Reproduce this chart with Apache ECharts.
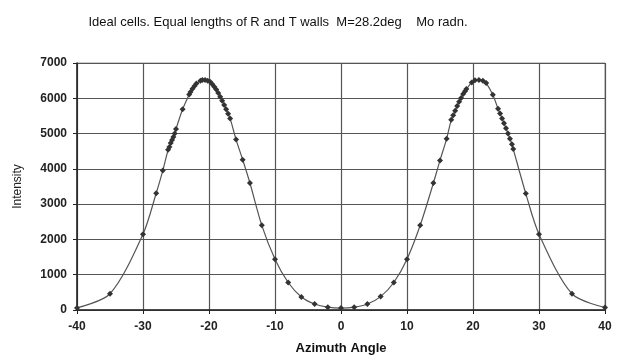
<!DOCTYPE html>
<html><head><meta charset="utf-8">
<script src="https://cdn.jsdelivr.net/npm/echarts@6/dist/echarts.min.js"></script>
<style>html,body{margin:0;padding:0;background:#fff}#c{width:623px;height:355px}</style>
</head><body><div id="c"></div>
<script>
const titleText = 'Ideal cells. Equal lengths of R and T walls  M=28.2deg    Mo radn.';
const xName = 'Azimuth Angle';
const yName = 'Intensity';
const angles = [-40,-35,-30,-28,-27,-26.2,-26.0,-25.8,-25.6,-25.4,-25.2,-25.0,-24.0,-23.0,-22.8,-22.5,-22.2,-21.9,-21.3,-21.0,-20.6,-20.2,-19.8,-19.5,-19.2,-18.9,-18.6,-18.3,-18.0,-17.7,-17.4,-17.1,-16.8,-15.9,-14.9,-13.8,-12,-10,-8,-6,-4,-2,0,
  2,4,6,8,10,12,14,15,16,16.7,17.0,17.3,17.6,17.9,18.2,18.5,18.8,19.0,19.8,20.3,20.9,21.5,22.0,23.0,23.8,24.1,24.4,24.7,25.0,25.3,25.6,25.9,26.1,28,30,35,40];
const intensity = [60,460,2150,3310,3950,4540,4620,4730,4820,4900,5000,5130,5690,6110,6180,6270,6350,6420,6500,6520,6520,6500,6460,6400,6330,6250,6150,6040,5930,5810,5690,5560,5430,4830,4260,3600,2400,1440,780,370,170,80,55,
  80,170,380,780,1440,2400,3600,4240,4850,5390,5520,5650,5780,5900,6010,6120,6200,6260,6450,6510,6520,6500,6430,6100,5700,5570,5430,5290,5150,5000,4850,4700,4560,3300,2150,460,70];
const data = angles.map((a,i)=>[a,intensity[i]]);
const chart = echarts.init(document.getElementById('c'), null, {renderer:'canvas'});
const font = 'Liberation Sans, Arial, sans-serif';
chart.setOption({
  animation:false,
  backgroundColor:'#fff',
  title:{text:titleText,left:273,top:11,textAlign:'center',textStyle:{fontFamily:font,fontSize:13,fontWeight:'normal',color:'#111'}},
  grid:{left:77,right:18,top:63,bottom:45,containLabel:false,outerBoundsMode:'none',show:true,borderColor:'#999',borderWidth:1},
  xAxis:{type:'value',min:-40,max:40,interval:10,
    name:xName,nameLocation:'middle',nameGap:32,
    nameTextStyle:{fontFamily:font,fontSize:13,fontWeight:'bold',color:'#111'},
    axisLine:{lineStyle:{color:'#222',width:1.5}},
    axisTick:{show:true,length:4,lineStyle:{color:'#222'}},
    axisLabel:{fontFamily:font,fontSize:12,fontWeight:'bold',color:'#222',margin:11},
    splitLine:{show:true,lineStyle:{color:'#555',width:1.2}}},
  yAxis:{type:'value',min:0,max:7000,interval:1000,
    name:yName,nameLocation:'middle',nameGap:53,nameRotate:90,
    nameTextStyle:{fontFamily:font,fontSize:12,color:'#222'},
    axisLine:{show:true,onZero:false,lineStyle:{color:'#222',width:1.5}},
    axisTick:{show:true,length:4,lineStyle:{color:'#222'}},
    axisLabel:{fontFamily:font,fontSize:12,fontWeight:'bold',color:'#222',margin:10,formatter:v=>String(v)},
    splitLine:{show:true,lineStyle:{color:'#555',width:1.2}}},
  series:[{type:'line',data:data,smooth:0.3,symbol:'diamond',symbolSize:6,
    lineStyle:{color:'#555',width:1.2},itemStyle:{color:'#333'}}]
});
</script></body></html>
